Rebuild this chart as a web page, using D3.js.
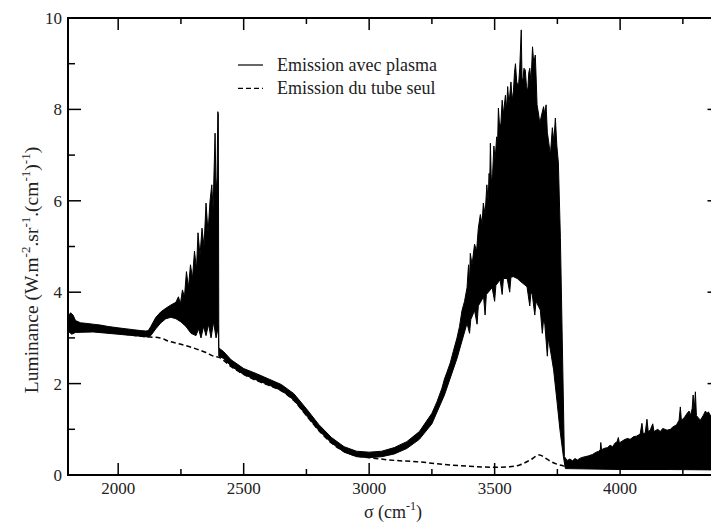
<!DOCTYPE html>
<html>
<head>
<meta charset="utf-8">
<script src="https://cdnjs.cloudflare.com/ajax/libs/d3/7.8.5/d3.min.js"></script>
<style>
  html, body { margin: 0; padding: 0; background: #fff; overflow: hidden; }
  svg { display: block; }
</style>
</head>
<body>
<svg id="chart" width="711" height="523"></svg>
<script>
// ---------- DATA ----------
// Upper envelope of the plasma emission
const upperSigma = [1800,1810,1820,1830,1850,1870,1900,1930,1960,2000,2030,2060,2090,2110,2120,
  2130,2150,2170,2190,2210,2230,2240,2248,2256,2264,2272,2280,2288,2296,2304,2312,2318,2326,2334,2342,2350,2358,2366,2373,2378,2386,2390,2394,2397,2399,
  2401,2420,2450,2500,2550,2600,2650,2700,2750,2800,2850,2900,2950,3000,3050,3100,3150,3200,
  3250,3270,3290,3300,3310,3323,3335,3350,3360,3370,3380,3390,3396,3400,3403,3410,3420,3428,3435,3443,3450,3455,3462,3469,3474,3478,3480,3483,3487,3492,3497,3502,3508,3512,3515,3520,3525,3530,3535,3543,3548,3552,3557,3565,3570,3575,3579,3583,3588,3595,3600,3606,3609,3612,3617,3622,3627,3632,3636,3640,3645,3651,3656,3662,3666,3669,3675,3680,3688,3695,3700,3705,3710,3715,3722,3730,3736,3742,3748,3754,3762,3770,3778,
  3782,3790,3800,3810,3820,3830,3845,3860,3875,3890,3905,3915,3921,3923,3926,3935,3950,3960,3970,3980,3988,3993,3997,4010,4020,4030,4040,4054,4065,4075,4080,4087,4092,4100,4107,4112,4120,4130,4135,4150,4160,4170,4187,4200,4210,4225,4235,4240,4244,4255,4267,4275,4280,4287,4291,4295,4300,4304,4312,4320,4332,4340,4345,4352,4360,4370,4380,4390,4400];
const upperValue = [3.45,3.55,3.5,3.38,3.33,3.32,3.3,3.28,3.25,3.22,3.2,3.18,3.16,3.15,3.16,
  3.25,3.45,3.57,3.65,3.72,3.78,3.9,3.75,4.05,3.9,4.45,4.1,4.6,4.3,4.9,4.5,5.3,4.8,5.4,5.0,5.95,5.3,6.0,6.35,5.8,7.48,6.2,6.5,7.95,7.9,
  2.78,2.7,2.52,2.33,2.22,2.1,1.98,1.78,1.45,1.1,0.82,0.62,0.52,0.5,0.52,0.6,0.73,0.95,
  1.35,1.6,1.9,2.1,2.25,2.45,2.7,3.0,3.25,3.6,3.8,4.1,4.6,4.2,4.85,4.6,5.05,4.9,5.4,5.7,5.5,5.95,5.7,6.35,6.0,6.6,6.2,7.26,6.4,6.6,7.2,6.9,7.4,7.3,8.03,7.6,7.7,8.2,7.9,8.31,8.0,8.5,8.1,8.6,8.2,8.4,8.8,9.0,8.6,8.5,8.9,9.74,8.7,8.6,8.9,8.86,8.5,8.4,8.8,8.9,8.6,9.37,9.0,9.19,8.6,8.1,7.9,7.7,7.9,8.06,7.9,8.1,7.5,7.3,7.0,7.6,7.3,7.81,7.2,6.83,5.2,2.8,0.4,
  0.37,0.32,0.35,0.31,0.36,0.33,0.38,0.4,0.42,0.45,0.5,0.52,0.55,0.71,0.55,0.58,0.6,0.65,0.62,0.7,0.73,0.82,0.7,0.75,0.78,0.8,0.78,0.84,0.85,0.88,0.9,1.13,0.9,0.92,1.22,0.95,0.98,1.12,0.95,1.0,0.95,1.02,0.98,1.0,1.05,1.1,1.2,1.49,1.2,1.25,1.35,1.4,1.3,1.45,1.75,1.4,1.82,1.3,1.25,1.2,1.31,1.4,1.35,1.38,1.3,1.32,1.25,1.3,1.35];
// Lower envelope of the plasma emission
const lowerSigma = [1800,1815,1830,1900,2000,2060,2100,2120,
  2130,2150,2170,2190,2210,2230,2250,2270,2290,2310,2320,2330,2340,2350,2360,2370,2380,2390,2399,
  2401,2420,2450,2500,2550,2600,2650,2700,2750,2800,2850,2900,2950,3000,3050,3100,3150,3200,3250,
  3300,3350,3390,3400,3405,3420,3430,3435,3456,3462,3467,3490,3500,3505,3522,3530,3535,3550,3560,3565,3575,3590,3600,3629,3640,3645,3650,3660,3665,3682,3690,3695,3700,3710,3714,3722,3735,3748,3760,3774,3780,
  3782,4000,4200,4400];
const lowerValue = [3.15,3.08,3.12,3.13,3.08,3.05,3.03,3.02,
  3.05,3.2,3.33,3.42,3.45,3.42,3.35,3.25,3.1,3.05,3.2,3.0,3.25,3.05,3.3,3.0,3.35,3.0,3.25,
  2.6,2.55,2.38,2.2,2.08,1.97,1.85,1.64,1.3,0.97,0.7,0.5,0.4,0.38,0.4,0.46,0.58,0.78,1.12,
  1.75,2.55,3.32,3.1,3.4,3.6,3.3,3.7,3.9,3.5,3.95,4.1,3.8,4.15,4.27,3.95,4.3,4.3,4.0,4.33,4.34,4.3,4.25,4.12,3.7,4.0,3.95,3.5,3.8,3.61,3.1,3.4,3.3,2.6,3.0,2.74,2.3,1.64,1.0,0.4,0.2,
  0.14,0.12,0.12,0.11];
// Emission of the tube alone (dashed)
const tubeSigma = [1800,1900,2000,2100,2167,2200,2250,2300,2350,2380,2400,2450,2500,2550,2600,2650,2700,2750,2800,2850,2900,2950,3000,3100,3190,3300,3400,3500,3560,3600,3642,3679,3700,3722,3774,3800,4000,4400];
const tubeValue = [3.2,3.15,3.1,3.03,3.0,2.93,2.86,2.78,2.68,2.6,2.58,2.37,2.2,2.07,1.96,1.84,1.63,1.3,0.97,0.7,0.52,0.42,0.38,0.32,0.29,0.23,0.19,0.17,0.18,0.22,0.33,0.44,0.38,0.3,0.2,0.17,0.15,0.13];

const xMajorTicks = [2000,2500,3000,3500,4000];
const xMinorTicks = [2250,2750,3250,3750,4250];
const yMajorTicks = [0,2,4,6,8,10];
const yMinorTicks = [1,3,5,7,9];
const legendLabels = ["Emission avec plasma", "Emission du tube seul"];

// ---------- CHART ----------
const FONT = "'Liberation Serif', 'Times New Roman', 'DejaVu Serif', serif";
const svg = d3.select("#chart").attr("font-family", FONT);
const pLeft = 68, pRight = 720.5, pTop = 18, pBottom = 475;
const x = d3.scaleLinear().domain([1800, 4400]).range([pLeft, pRight]);
const y = d3.scaleLinear().domain([0, 10]).range([pBottom, pTop]);

svg.append("clipPath").attr("id","clip").append("rect")
  .attr("x", pLeft).attr("y", pTop).attr("width", pRight-pLeft).attr("height", pBottom-pTop);

const g = svg.append("g").attr("clip-path","url(#clip)");

// plasma band polygon
const upperPts = upperSigma.map((s,i)=>[s, upperValue[i]]);
const lowerPts = lowerSigma.map((s,i)=>[s, lowerValue[i]]).reverse();
const poly = d3.line().x(d=>x(d[0])).y(d=>y(d[1]));
g.append("path")
  .attr("d", poly(upperPts.concat(lowerPts)) + "Z")
  .attr("fill", "#000").attr("stroke", "#000").attr("stroke-width", 1).attr("stroke-linejoin","bevel");

// tube dashed line
const tubePts = tubeSigma.map((s,i)=>[s, tubeValue[i]]);
g.append("path")
  .attr("d", d3.line().x(d=>x(d[0])).y(d=>y(d[1])).curve(d3.curveMonotoneX)(tubePts))
  .attr("fill","none").attr("stroke","#000").attr("stroke-width",1.5)
  .attr("stroke-dasharray","5,3");

// frame
svg.append("rect").attr("x",pLeft).attr("y",pTop).attr("width",pRight-pLeft).attr("height",pBottom-pTop)
  .attr("fill","none").attr("stroke","#000").attr("stroke-width",2);

const tickStyle = sel => sel.attr("stroke","#000").attr("stroke-width",1.5);
[[pBottom,-1],[pTop,1]].forEach(([yy,dir])=>{
  svg.selectAll(null).data(xMajorTicks).enter().append("line")
    .attr("x1",d=>x(d)).attr("x2",d=>x(d)).attr("y1",yy).attr("y2",yy+dir*12).call(tickStyle);
  svg.selectAll(null).data(xMinorTicks).enter().append("line")
    .attr("x1",d=>x(d)).attr("x2",d=>x(d)).attr("y1",yy).attr("y2",yy+dir*6).call(tickStyle);
});
[[pLeft,1],[pRight,-1]].forEach(([xx,dir])=>{
  svg.selectAll(null).data(yMajorTicks.filter(t=>t>0&&t<10)).enter().append("line")
    .attr("y1",d=>y(d)).attr("y2",d=>y(d)).attr("x1",xx).attr("x2",xx+dir*13).call(tickStyle);
  svg.selectAll(null).data(yMinorTicks).enter().append("line")
    .attr("y1",d=>y(d)).attr("y2",d=>y(d)).attr("x1",xx).attr("x2",xx+dir*7).call(tickStyle);
});

// tick labels
svg.selectAll(null).data(xMajorTicks).enter().append("text")
  .attr("x",d=>x(d)).attr("y",pBottom+19).attr("text-anchor","middle")
  .attr("font-size",17).attr("fill","#222").text(d=>d);
svg.selectAll(null).data(yMajorTicks).enter().append("text")
  .attr("x",pLeft-6).attr("y",d=>y(d)+6).attr("text-anchor","end")
  .attr("font-size",17).attr("fill","#222").text(d=>d);

// x axis title
const xt = svg.append("text").attr("x",393).attr("y",518).attr("text-anchor","middle")
  .attr("font-size",18).attr("fill","#222");
xt.append("tspan").text("σ (cm");
xt.append("tspan").attr("font-size",12).attr("dy",-8).text("-1");
xt.append("tspan").attr("dy",8).text(")");

// y axis title
const yt = svg.append("text").attr("transform","translate(38,270) rotate(-90)")
  .attr("text-anchor","middle").attr("font-size",19.5).attr("fill","#222");
yt.append("tspan").text("Luminance (W.m");
yt.append("tspan").attr("font-size",13).attr("dy",-8).text("-2");
yt.append("tspan").attr("dy",8).text(".sr");
yt.append("tspan").attr("font-size",13).attr("dy",-8).text("-1");
yt.append("tspan").attr("dy",8).text(".(cm");
yt.append("tspan").attr("font-size",13).attr("dy",-8).text("-1");
yt.append("tspan").attr("dy",8).text(")");
yt.append("tspan").attr("font-size",13).attr("dy",-8).text("-1");
yt.append("tspan").attr("dy",8).text(")");

// legend
const legend = svg.append("g");
legendLabels.forEach((lab,i)=>{
  const ly = 65 + i*23.3;
  legend.append("line").attr("x1",238).attr("x2",263).attr("y1",ly).attr("y2",ly)
    .attr("stroke","#000").attr("stroke-width",1.2)
    .attr("stroke-dasharray", i===1 ? "5,3" : null);
  legend.append("text").attr("x",277).attr("y",ly+6)
    .attr("font-size",18).attr("fill","#222").text(lab);
});
</script>
</body>
</html>
